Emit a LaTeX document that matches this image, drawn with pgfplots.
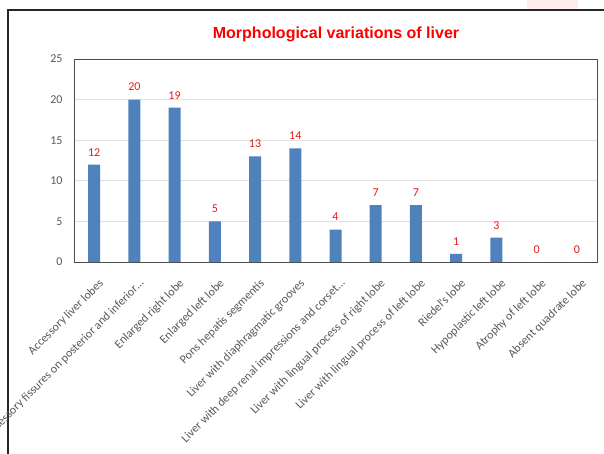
\documentclass[border=0pt]{standalone}
\usepackage{pgfplots}
\pgfplotsset{compat=1.18}
\usepackage{fontspec}
\setmainfont{Carlito}
\newfontfamily\titlefont{Liberation Sans}
\definecolor{barblue}{HTML}{4F81BD}
\definecolor{lblred}{HTML}{E8191B}
\definecolor{tickgray}{HTML}{595959}
\begin{document}
\begin{tikzpicture}
\fill[white] (0,0) rectangle (604pt,-454pt);
\begin{scope}
\clip (0,0) rectangle (604pt,-454pt);
\fill[red!7] (527pt,0pt) rectangle (578pt,-9pt);
\draw[line width=1.3pt, black!85] (8pt,-460pt) -- (8pt,-10pt) -- (610pt,-10pt);
\node[anchor=base, text=red, font=\titlefont\bfseries\fontsize{16}{18}\selectfont] at (336pt,-38.3pt) {Morphological variations of liver};
\begin{axis}[
  at={(74pt,-262pt)}, anchor=south west,
  scale only axis, width=523pt, height=203pt,
  ybar, bar width=12pt,
  xmin=-0.5, xmax=12.5, ymin=0, ymax=25,
  ytick={0,5,...,25},
  xtick={0,...,12},
  xticklabels={Accessory liver lobes,
    Accessory fissures on posterior and inferior…,
    Enlarged right lobe,
    Enlarged left lobe,
    Pons hepatis segmentis,
    Liver with diaphragmatic grooves,
    Liver with deep renal impressions and corset…,
    Liver with lingual process of right lobe,
    Liver with lingual process of left lobe,
    Riedel’s lobe,
    Hypoplastic left lobe,
    Atrophy of left lobe,
    Absent quadrate lobe},
  xticklabel shift=8pt,
  x tick label style={xshift=4pt, yshift=-5pt, rotate=45, anchor=north east, inner sep=2pt,
    font=\fontsize{12}{14}\selectfont, text=tickgray},
  y tick label style={font=\fontsize{12}{14}\selectfont, text=tickgray, xshift=-8pt},
  /pgf/number format/assume math mode=true,
  ymajorgrids, grid style={black!12, line width=1pt},
  major tick length=0pt,
  axis line style={black!70, line width=0.9pt},
  nodes near coords,
  every node near coord/.append style={font=\fontsize{12}{14}\selectfont, text=lblred, yshift=5pt},
]
\addplot[fill=barblue, draw=none] coordinates {
  (0,12) (1,20) (2,19) (3,5) (4,13) (5,14) (6,4) (7,7) (8,7) (9,1) (10,3) (11,0) (12,0)};
\end{axis}
\end{scope}
\pgfresetboundingbox
\useasboundingbox (0,0) rectangle (604pt,-454pt);
\end{tikzpicture}
\end{document}
